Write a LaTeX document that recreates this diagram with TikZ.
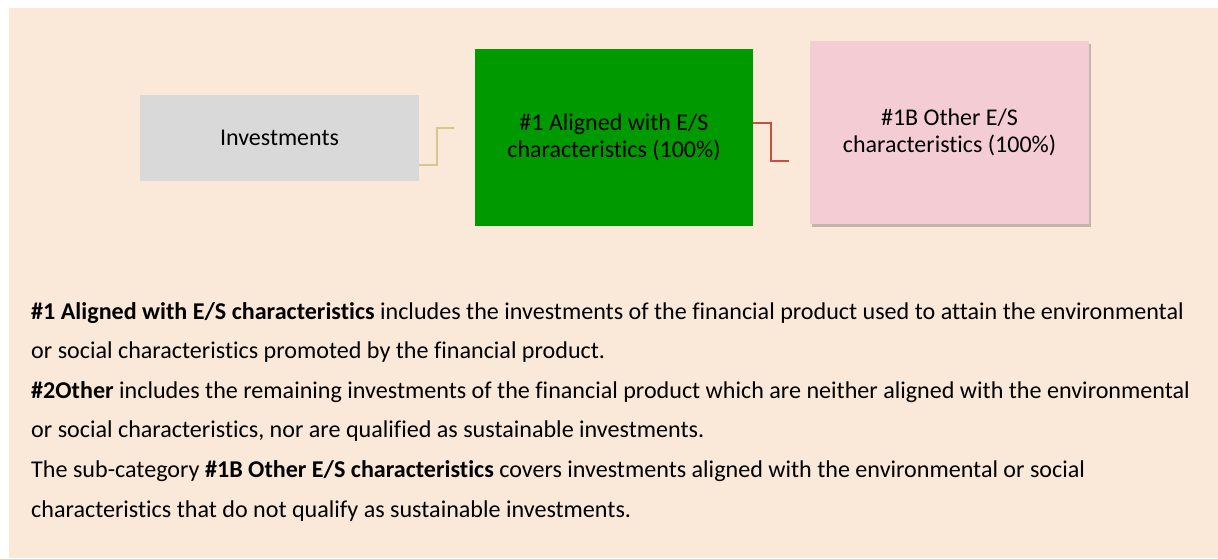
\documentclass[tikz,border=0pt]{standalone}
\usepackage{fontspec}
\setmainfont{Carlito}[RawFeature=-liga]
\usetikzlibrary{shadows}
\definecolor{paleBeige}{HTML}{FAE9D9}
\definecolor{boxGrey}{HTML}{D9D9D9}
\definecolor{alignedGreen}{HTML}{009900}
\definecolor{otherPink}{HTML}{F4CDD4}
\definecolor{lineKhaki}{HTML}{D6C78A}
\definecolor{lineRed}{HTML}{C8503C}

\begin{document}
\begin{tikzpicture}[x=1pt, y=-1pt,
  catbox/.style={align=center, inner sep=0pt, font=\fontsize{24}{27}\selectfont},
  elbow/.style={line width=1.6pt}]
 	\useasboundingbox (0,0) rectangle (1218,558);
 	\fill[paleBeige] (9,8) rectangle (1218,558);
 	% boxes
 	\node[catbox, fill=boxGrey, minimum width=279pt, minimum height=86pt] (I) at (279.5,138) {Investments};
 	\node[catbox, fill=alignedGreen, minimum width=278pt, minimum height=177pt] (A) at (614,137.5) {\#1 Aligned with E/S\\characteristics (100\%)};
 	\node[catbox, fill=otherPink, minimum width=279pt, minimum height=183pt,
 	  drop shadow={shadow xshift=2pt, shadow yshift=-3pt, fill=black, opacity=0.22}] (B) at (949.5,132.5) {\#1B Other E/S\\characteristics (100\%)};
 	% connectors
 	\coordinate (kEnd) at (454,128);
 	\coordinate (rEnd) at (789,161);
 	\draw[elbow, lineKhaki] (I.east |- 0,165) -| (437,128) -- (kEnd);
 	\draw[elbow, lineRed] (A.east |- 0,123) -| (771,161) -- (rEnd);
 	% explanation
 	\node[anchor=base west, inner sep=0pt, align=left, font=\fontsize{24.1}{39.6}\selectfont] (T) at (31,517) {%
 	  \textbf{\#1 Aligned with E/S characteristics} includes the investments of the financial product used to attain the environmental\\
 	  or social characteristics promoted by the financial product.\\
 	  \textbf{\#2Other} includes the remaining investments of the financial product which are neither aligned with the environmental\\
 	  or social characteristics, nor are qualified as sustainable investments.\\
 	  The sub-category \textbf{\#1B Other E/S characteristics} covers investments aligned with the environmental or social\\
 	  characteristics that do not qualify as sustainable investments.};
\end{tikzpicture}
\end{document}
